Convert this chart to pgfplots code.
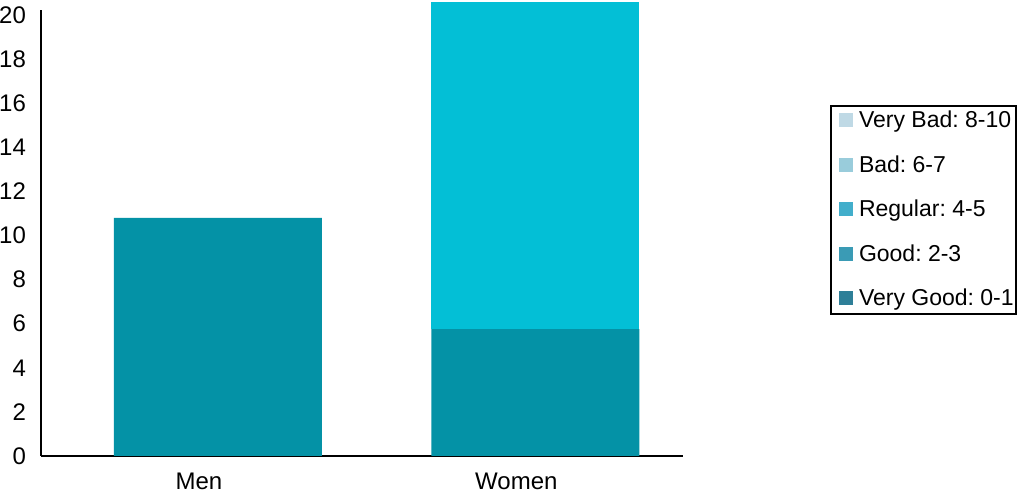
\documentclass[border=0pt]{standalone}
\usepackage{pgfplots}
\pgfplotsset{compat=1.18}
\usepackage{fontspec}
\setmainfont{Liberation Sans}
\frenchspacing

\definecolor{darkteal}{HTML}{0492A6}
\definecolor{cyanbar}{HTML}{03BFD6}
\definecolor{vbad}{HTML}{BFD9E5}
\definecolor{bad}{HTML}{99CCDB}
\definecolor{regular}{HTML}{42AECB}
\definecolor{good}{HTML}{3A9BB5}
\definecolor{vgood}{HTML}{2E7F98}

\begin{document}
\begin{tikzpicture}
\useasboundingbox (-20.5pt,-23.5pt) rectangle (491.5pt,228pt);
\begin{axis}[
    scale only axis,
    width=321pt, height=223pt,
    xmin=-0.557, xmax=1.465,
    ymin=0, ymax=20.23,
    axis lines=left,
    axis line style={line width=1pt, -},
    xtick={0,1}, xticklabels={Men, Women},
    ytick={0,2,...,20},
    major tick length=0pt,
    tick label style={font=\fontsize{12}{14}\selectfont},
    xticklabel style={xshift=-9.5pt, yshift=-5pt},
    yticklabel style={xshift=-4pt},
    /pgf/number format/assume math mode=true,
    clip=false,
    ybar stacked,
    bar width=0.655,
    legend style={at={(rel axis cs:1.229,0.787)}, anchor=north west,
        draw=black, line width=1pt, font=\fontsize{11.5}{13}\selectfont,
        row sep=8.4pt, inner xsep=0pt, inner ysep=0.5pt,
        nodes={inner xsep=1pt},
        cells={anchor=west}},
    legend image code/.code={\path (0pt,0pt);
        \fill[#1] (3.8pt,-3.2pt) rectangle (10.8pt,3.8pt);
        \path (13pt,0pt);},
]
\addplot[fill=darkteal, draw=none, forget plot] coordinates {(0,10.8) (1,5.76)};
\addplot[fill=cyanbar, draw=none, forget plot] coordinates {(0,0) (1,14.84)};
\addlegendimage{fill=vbad, draw=none}
\addlegendentry{Very Bad: 8-10}
\addlegendimage{fill=bad, draw=none}
\addlegendentry{Bad: 6-7}
\addlegendimage{fill=regular, draw=none}
\addlegendentry{Regular: 4-5}
\addlegendimage{fill=good, draw=none}
\addlegendentry{Good: 2-3}
\addlegendimage{fill=vgood, draw=none}
\addlegendentry{Very Good: 0-1}
\end{axis}
\end{tikzpicture}
\end{document}
